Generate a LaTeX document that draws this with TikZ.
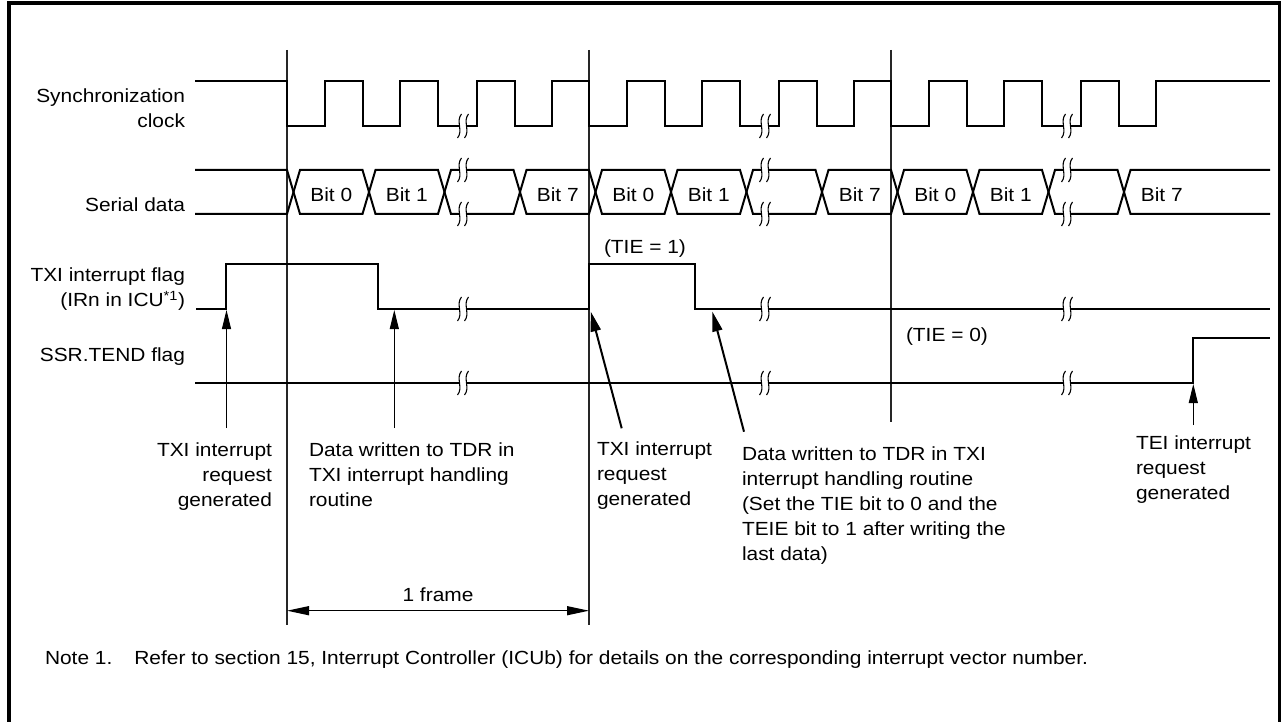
\documentclass[tikz,border=0pt]{standalone}
\usepackage{fontspec}
\setmainfont{Liberation Sans}[FakeStretch=1.10]
\usetikzlibrary{arrows.meta}
\tikzset{
  sig/.style={line width=2pt, line join=miter, line cap=butt},
  frameline/.style={line width=1.3pt, draw=black!85},
  lbl/.style={inner sep=0pt, outer sep=0pt, font=\fontsize{19}{25}\selectfont},
  thinarr/.style={line width=1pt, -{Triangle[length=19pt,width=9pt]}},
  thickarr/.style={line width=2pt, -{Triangle[length=20pt,width=10pt]}},
  brk/.pic={
    \fill[white] (-3.5,-3) rectangle (3.5,3);
    \draw[line width=1.1pt] (-1.5,-12) .. controls (-7.5,-5) and (0.5,5) .. (-5.5,12);
    \draw[line width=1.1pt] (5.5,-12) .. controls (-0.5,-5) and (7.5,5) .. (1.5,12);
  }
}
\begin{document}
\begin{tikzpicture}[x=1pt,y=-1pt]
\useasboundingbox (0,0) rectangle (1282,722);
% outer frame
\draw[line width=3.5pt] (9,730) -- (9,3) -- (1279.5,3) -- (1279.5,730);

% frame lines
\draw[frameline] (287,50) -- (287,625);
\draw[frameline] (589,50) -- (589,625);
\draw[frameline] (891,50) -- (891,422);

% labels left (base anchor = baseline of last line)
\node[lbl, anchor=base east, align=right] (lclk) at (185,127.3) {Synchronization\\clock};
\node[lbl, anchor=base east] (ldat) at (185,211.7) {Serial data};
\node[lbl, anchor=base east, align=right] (ltxi) at (185,306.7) {TXI interrupt flag\\(IRn in ICU\textsuperscript{*1})};
\node[lbl, anchor=base east] (lssr) at (185,361) {SSR.TEND flag};

% clock
\draw[sig] (195,81) -- (287,81)
  |- (324.75,126) |- (362.5,81) |- (400.25,126) |- (438,81) |- (476.75,126) |- (514.5,81) |- (552.25,126) |- (589,81)
  |- (626.75,126) |- (664.5,81) |- (702.25,126) |- (740,81) |- (778.75,126) |- (816.5,81) |- (854.25,126) |- (891,81)
  |- (928.75,126) |- (966.5,81) |- (1004.25,126) |- (1042,81) |- (1080.75,126) |- (1118.5,81) |- (1156.25,126) |- (1270,81);

% serial data
\draw[sig] (195,170) -- (287,170) -- (293.5,192) -- (287,214) -- (195,214);
\foreach \a/\b in {293.5/369, 369/444.5, 444.5/520, 520/595.5, 595.5/671, 671/746.5, 746.5/822, 822/897.5, 897.5/973, 973/1048.5, 1048.5/1124}
  \draw[sig] (\a,192) -- (\a+6.5,170) -- (\b-6.5,170) -- (\b,192) -- (\b-6.5,214) -- (\a+6.5,214) -- cycle;
\draw[sig] (1270,170) -- (1130.5,170) -- (1124,192) -- (1130.5,214) -- (1270,214);
\foreach \x/\t [count=\i] in {331.25/Bit 0, 406.75/Bit 1, 557.75/Bit 7, 633.25/Bit 0, 708.75/Bit 1, 859.75/Bit 7, 935.25/Bit 0, 1010.75/Bit 1, 1161.75/Bit 7}
  \node[lbl, anchor=base] (bit\i) at (\x,201.5) {\t};

% TXI flag
\draw[sig] (196,309) -| (226,264) -| (378,309) -- (589,309) |- (695,264) |- (1270,309);
% SSR.TEND flag
\draw[sig] (195,383) -- (1193.3,383) |- (1270,338);

% breaks
\foreach \x in {463,765,1067} {
  \pic at (\x,126) {brk};
  \pic at (\x,170) {brk};
  \pic at (\x,214) {brk};
  \pic at (\x,309) {brk};
  \pic at (\x,383) {brk};
}

\node[lbl, anchor=base west] (tie1) at (604,253) {(TIE = 1)};
\node[lbl, anchor=base west] (tie0) at (906,341.7) {(TIE = 0)};

% arrows
\coordinate (a1b) at (226.5,428); \coordinate (a1t) at (226.5,310);
\coordinate (a2b) at (394.3,428); \coordinate (a2t) at (394.3,310);
\coordinate (a3b) at (621.7,428.3); \coordinate (a3t) at (590.7,311.5);
\coordinate (a4b) at (744,431.7); \coordinate (a4t) at (712.3,311.5);
\coordinate (a5b) at (1193.3,425); \coordinate (a5t) at (1193.3,384);
\draw[thinarr] (a1b) -- (a1t);
\draw[thinarr] (a2b) -- (a2t);
\draw[thickarr] (a3b) -- (a3t);
\draw[thickarr] (a4b) -- (a4t);
\draw[thinarr] (a5b) -- (a5t);

% bottom labels (base anchor = baseline of last line)
\node[lbl, anchor=base east, align=right] (la) at (272,506) {TXI interrupt\\request\\generated};
\node[lbl, anchor=base west, align=left] (lb) at (309,506) {Data written to TDR in\\TXI interrupt handling\\routine};
\node[lbl, anchor=base west, align=left] (lc) at (597,505) {TXI interrupt\\request\\generated};
\node[lbl, anchor=base west, align=left] (ld) at (742,560) {Data written to TDR in TXI\\interrupt handling routine\\(Set the TIE bit to 0 and the\\TEIE bit to 1 after writing the\\last data)};
\node[lbl, anchor=base west, align=left] (le) at (1136,499) {TEI interrupt\\request\\generated};

% 1 frame
\coordinate (f1) at (287,610.7); \coordinate (f2) at (589,610.7);
\draw[line width=1.2pt, {Triangle[length=22pt,width=9pt]}-{Triangle[length=22pt,width=9pt]}] (f1) -- (f2);
\node[lbl, anchor=base] (fr) at (438,601.7) {1 frame};

% note
\node[lbl, anchor=base west] (note) at (45,664) {Note 1.\hspace{22pt}Refer to section 15, Interrupt Controller (ICUb) for details on the corresponding interrupt vector number.};
\end{tikzpicture}
\end{document}
